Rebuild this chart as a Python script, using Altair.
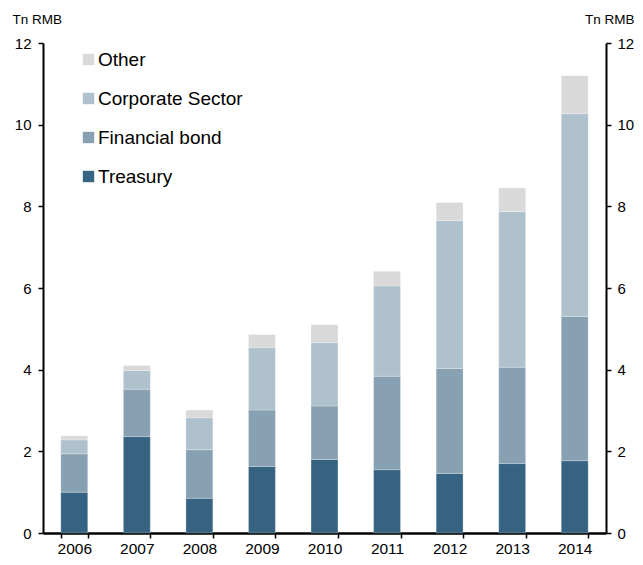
import altair as alt
import pandas as pd

years = ["2006", "2007", "2008", "2009", "2010", "2011", "2012", "2013", "2014"]
treasury = [1.00, 2.36, 0.85, 1.63, 1.80, 1.55, 1.46, 1.70, 1.77]
financial = [0.94, 1.16, 1.19, 1.38, 1.31, 2.29, 2.57, 2.36, 3.53]
corporate = [0.34, 0.46, 0.78, 1.53, 1.55, 2.21, 3.62, 3.81, 4.97]
other = [0.10, 0.12, 0.19, 0.32, 0.44, 0.36, 0.44, 0.58, 0.93]

series_names = ["Treasury", "Financial bond", "Corporate Sector", "Other"]
series_values = [treasury, financial, corporate, other]
legend_order = ["Other", "Corporate Sector", "Financial bond", "Treasury"]
colors = ["#d9d9d9", "#aec1cd", "#87a1b3", "#366381"]
y_ticks = [0, 2, 4, 6, 8, 10, 12]

rows = []
for idx, (name, vals) in enumerate(zip(series_names, series_values)):
    for yr, v in zip(years, vals):
        rows.append({"year": yr, "series": name, "value": v, "idx": idx})
df = pd.DataFrame(rows)

FONT = "Liberation Sans"

x_enc = alt.X(
    "year:N",
    sort=years,
    scale=alt.Scale(paddingInner=0.57, paddingOuter=0.285),
    axis=alt.Axis(
        title=None, labelAngle=0, tickBand="extent", labelFontSize=15.5,
        labelColor="#000", labelPadding=3, tickSize=5, tickColor="#000",
        tickWidth=1.5, domainColor="#000", domainWidth=2.5, labelFont=FONT,
    ),
)

axis_common = dict(
    values=y_ticks, grid=False, labelFontSize=15, labelColor="#000",
    labelFont=FONT, tickSize=5, tickColor="#000", tickWidth=1.5,
    domainColor="#000", domainWidth=2,
    title="Tn RMB", titleAngle=0, titleFontSize=13.5, titleFontWeight="normal",
    titleFont=FONT, titleColor="#000", titleBaseline="top",
)

bars = alt.Chart(df).mark_bar(stroke="white", strokeWidth=0.4, strokeOpacity=0.6).encode(
    x=x_enc,
    y=alt.Y(
        "sum(value):Q", stack="zero", scale=alt.Scale(domain=[0, 12], nice=False),
        axis=alt.Axis(orient="left", titleAlign="left", titleX=-31, titleY=-31,
                      labelPadding=7, **axis_common),
    ),
    color=alt.Color(
        "series:N",
        scale=alt.Scale(domain=legend_order, range=colors),
        legend=alt.Legend(
            title=None, orient="none", legendX=36, legendY=7,
            symbolType="square", symbolSize=130, symbolStrokeWidth=0,
            labelFontSize=19, labelFont=FONT, labelColor="#000",
            rowPadding=19, labelOffset=0,
        ),
    ),
    order=alt.Order("idx:Q"),
)

right = alt.Chart(df).mark_bar(opacity=0).encode(
    x=x_enc,
    y=alt.Y(
        "value:Q", scale=alt.Scale(domain=[0, 12], nice=False),
        axis=alt.Axis(orient="right", titleAlign="right", titleX=28, titleY=-31,
                      labelPadding=6, **axis_common),
    ),
)

chart = (
    alt.layer(bars, right)
    .resolve_axis(y="independent")
    .properties(width=563, height=490, padding={"left": 4, "top": 4, "right": 0, "bottom": 0})
    .configure_view(stroke=None)
)

chart.save("out.html", embed_options={"renderer": "svg", "actions": False})
